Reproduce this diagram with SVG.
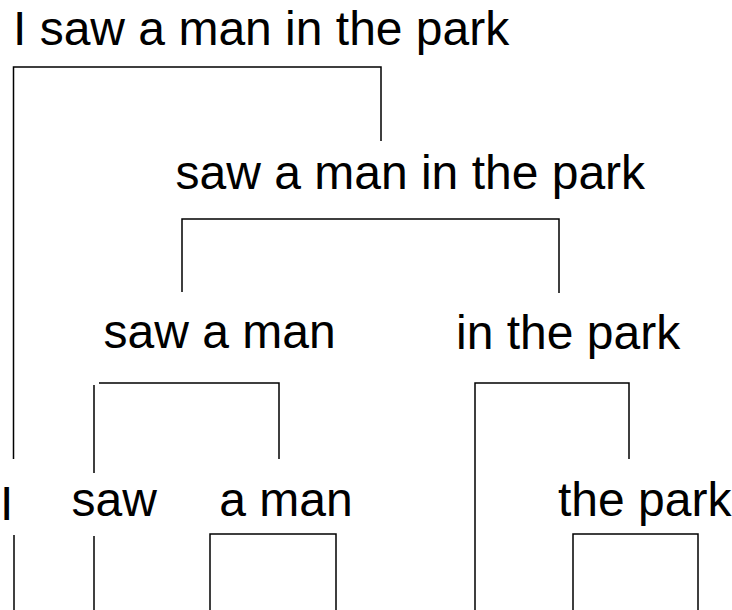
<svg xmlns="http://www.w3.org/2000/svg" width="732" height="610" viewBox="0 0 732 610">
<style>
.lbl{font-family:"Liberation Sans",Arial,sans-serif;font-size:48px;fill:#000}
.ln{fill:none;stroke:#000;stroke-width:1.5}
</style>
<rect width="732" height="610" fill="#fff"/>
<g id="n-root"><text class="lbl" x="13" y="45">I saw a man in the park</text></g>
<g id="n-vp"><text class="lbl" x="175.5" y="189">saw a man in the park</text></g>
<g id="n-v1"><text class="lbl" x="103.5" y="348">saw a man</text></g>
<g id="n-pp"><text class="lbl" x="456" y="349">in the park</text></g>
<g id="n-i"><text class="lbl" x="0" y="520">I</text></g>
<g id="n-saw"><text class="lbl" x="71.5" y="516">saw</text></g>
<g id="n-aman"><text class="lbl" x="219.3" y="516">a man</text></g>
<g id="n-thepark"><text class="lbl" x="558" y="516">the park</text></g>
<g id="connectors" class="ln">
<path d="M13.5 459 V67 H381 V141"/>
<path d="M182 292 V219 H559 V293"/>
<path d="M94 473 V385 M99 383 H279 V459"/>
<path d="M475 610 V383 H629 V459"/>
<path d="M210 610 V534 H336 V610"/>
<path d="M573 610 V534 H698 V610"/>
<path d="M14 535 V610"/>
<path d="M94 536 V610"/>
</g>
</svg>
